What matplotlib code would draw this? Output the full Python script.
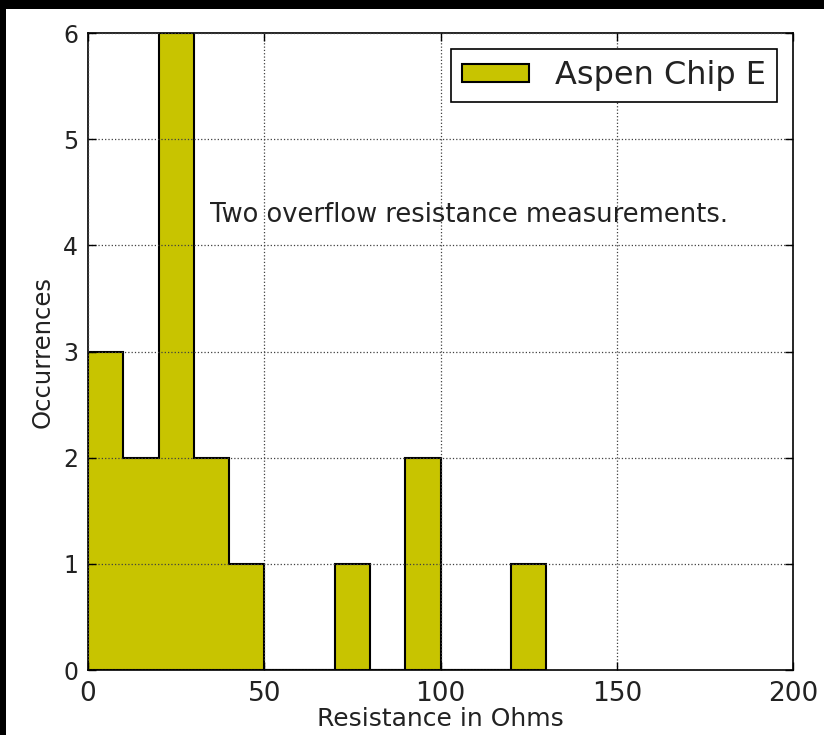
import matplotlib
matplotlib.use('Agg')
import matplotlib.pyplot as plt
import matplotlib.patches as patches

plt.rcParams['font.family'] = ['DejaVu Sans']

# histogram data (bin edges in ohms, counts per bin)
bin_edges = [0, 10, 20, 30, 40, 50, 60, 70, 80, 90, 100, 110, 120, 130]
counts = [3, 2, 6, 2, 1, 0, 0, 1, 0, 2, 0, 0, 1]
series_label = 'Aspen Chip E'
note = 'Two overflow resistance measurements.'

fig = plt.figure(figsize=(8.24, 7.35), dpi=100, facecolor='white')
ax = fig.add_axes([0.1068, 0.0884, 0.8556, 0.8666])

ax.hist(bin_edges[:-1], bins=bin_edges, weights=counts, histtype='stepfilled',
        facecolor='#c8c400', edgecolor='black', linewidth=1.5, label=series_label)

ax.set_xlim(0, 200)
ax.set_ylim(0, 6)
ax.set_xticks([0, 50, 100, 150, 200])
ax.set_yticks(range(0, 7))
ax.set_axisbelow(False)
ax.grid(True, linestyle=':', color='0.25', linewidth=0.9)
ax.tick_params(direction='in', top=True, right=True, length=6, width=1)
ax.tick_params(axis='x', labelsize=19, pad=8, labelcolor='#222222')
ax.tick_params(axis='y', labelsize=17, pad=7, labelcolor='#222222')
for s in ax.spines.values():
    s.set_linewidth(1.2)

ax.set_xlabel('Resistance in Ohms', fontsize=18, labelpad=0, color='#222222')
ax.set_ylabel('Occurrences', fontsize=17.5, labelpad=6, color='#222222')

ax.text(34.6, 4.29, note, ha='left', va='center', fontsize=18.5, color='#222222')

leg = ax.legend(loc='upper right', fontsize=23, fancybox=False, framealpha=1,
                edgecolor='black', handlelength=2.1, handleheight=0.5,
                handletextpad=0.8, borderpad=0.35, borderaxespad=0.5)
leg.get_frame().set_linewidth(1.2)
for t in leg.get_texts():
    t.set_color('#222222')

# black screenshot border on the left and top
fig.patches.append(patches.Rectangle((0, 0), 6 / 824, 1, transform=fig.transFigure,
                                     facecolor='black', edgecolor='none', zorder=10))
fig.patches.append(patches.Rectangle((0, 1 - 9 / 735), 1, 9 / 735, transform=fig.transFigure,
                                     facecolor='black', edgecolor='none', zorder=10))

fig.savefig('out.png', dpi=100, facecolor='white')
